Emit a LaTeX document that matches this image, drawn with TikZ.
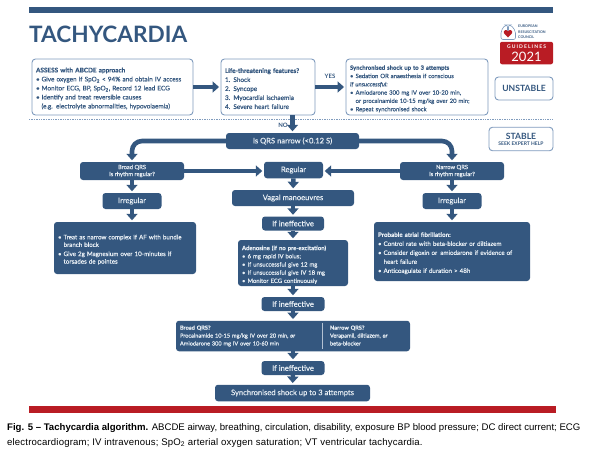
\documentclass[tikz,border=0pt]{standalone}
\usepackage{fontspec}
\setmainfont{Lato}
\newfontfamily\capfont{Liberation Sans}
\newfontfamily\medfont[FakeBold=0.3]{Lato}
\usetikzlibrary{arrows.meta}
\definecolor{ercblue}{HTML}{34577F}
\definecolor{ercline}{HTML}{7F9BBD}
\definecolor{ercred}{HTML}{B91C24}
\definecolor{erctext}{HTML}{E9EFF5}
\newcommand{\blt}{\makebox[5.6pt][l]{\textbullet}}
\newcommand{\ind}{\hspace*{5.6pt}}
\newcommand{\sub}{\textsubscript{2}}
\tikzset{
  nudge/.style={execute at begin node={\rule{0pt}{8pt}}},
  outline/.style={draw=ercline,line width=0.9pt,fill=white,rounded corners=3.5pt,inner ysep=0pt,inner xsep=4pt,
    text=ercblue,align=left,font=\medfont\fontsize{6.4}{9}\selectfont},
  solid box/.style={fill=ercblue,draw=none,rounded corners=3pt,inner ysep=0pt,inner xsep=4pt,text=erctext,align=center,
    font=\medfont\fontsize{7.6}{9}\selectfont},
  small box/.style={solid box,font=\medfont\fontsize{5.8}{7}\selectfont},
  text box/.style={solid box,align=left,font=\medfont\fontsize{6.2}{9}\selectfont},
  flow/.style={draw=ercblue,line width=4.6pt,shorten >=1.5pt,
    -{Triangle[width=11pt,length=6.5pt]}},
  tag/.style={text=ercblue,inner sep=0pt,font=\fontsize{6}{7}\bfseries\selectfont},
}
\begin{document}
\begin{tikzpicture}[x=1pt,y=-1pt]
  \useasboundingbox (0,0) rectangle (590,451);
  \fill[ercblue] (29,7) rectangle (553,12.5);
  \fill[ercred] (29,405.5) rectangle (556,412.5);
  \draw[ercline,line width=0.9pt,dash pattern=on 1.4pt off 1pt] (29,119.5) -- (553,119.5);
  \node[anchor=west,inner sep=0pt,text=ercblue,font=\fontsize{22.6}{26}\bfseries\selectfont] (title) at (29,34.5) {TACHYCARDIA};

  \draw[ercline,line width=0.6pt,rounded corners=2pt] (501,39.5) -- (501,31) -- (505,25) -- (507.5,25) -- (507.5,32)
    -- (508.5,32) -- (508.5,25) -- (511,25) -- (515.5,31) -- (515.5,39.5) -- cycle;
  \fill[ercred] (508,37.5) -- (503.8,33) .. controls (503,30) and (507,29) .. (508,31.5)
    .. controls (509,29) and (513,30) .. (512.2,33) -- cycle;
  \node[anchor=west,inner sep=0pt,align=left,text=ercblue,font=\fontsize{3.6}{5.4}\bfseries\selectfont] (erc) at (518,32)
    {EUROPEAN\\RESUSCITATION\\COUNCIL};
  \node[fill=ercred,rounded corners=2pt,inner sep=0pt,minimum width=53pt,minimum height=22.5pt] (logo) at (526.5,53) {};
  \node[inner sep=0pt,text=white,font=\fontsize{5}{6}\bfseries\addfontfeature{LetterSpace=22}\selectfont] (guide) at (526.5,46.8) {GUIDELINES};
  \node[inner sep=0pt,text=white,font=\fontsize{13}{14}\selectfont] (year) at (526.5,57.3) {2021};

  \node[outline,nudge,minimum height=56pt,text width=153pt] (assess) at (112.5,87) {\textbf{ASSESS with ABCDE approach}\\
    \blt Give oxygen if SpO\sub{} < 94\% and obtain IV access\\
    \blt Monitor ECG, BP, SpO\sub, Record 12 lead ECG\\
    \blt Identify and treat reversible causes\\
    \ind(e.g. electrolyte abnormalities, hypovolaemia)};
  \node[outline,nudge,minimum height=56pt,text width=86pt] (life) at (268,87) {\textbf{Life-threatening features?}\\
    1. Shock\\2. Syncope\\3. Myocardial ischaemia\\4. Severe heart failure};
  \node[outline,nudge,minimum height=56pt,text width=134pt,font=\medfont\fontsize{5.9}{8.3}\selectfont] (shock) at (417,87) {\textbf{Synchronised shock up to 3 attempts}\\
    \blt Sedation OR anaesthesia if conscious\\
    \textit{If unsuccessful:}\\
    \blt Amiodarone 300 mg IV over 10-20 min,\\
    \ind or procainamide 10-15 mg/kg over 20 min;\\
    \blt Repeat synchronised shock};
  \node[outline,align=center,minimum width=58pt,minimum height=23pt,font=\fontsize{8.6}{10}\bfseries\selectfont] (unstable) at (524,88.5) {UNSTABLE};
  \node[outline,align=center,minimum width=64pt,minimum height=23.5pt,font=\fontsize{5}{6}\bfseries\selectfont] (stable) at (521,139)
    {{\fontsize{8.6}{10}\selectfont STABLE}\\SEEK EXPERT HELP};

  \node[solid box,minimum width=133pt,minimum height=16pt] (narrow) at (292.5,141) {Is QRS narrow (<0.12 S)};
  \node[small box,minimum width=104pt,minimum height=18pt] (broadq) at (132,171) {Broad QRS\\Is rhythm regular?};
  \node[solid box,minimum width=59pt,minimum height=16.5pt] (regular) at (293.5,170) {Regular};
  \node[small box,minimum width=104pt,minimum height=18pt] (narrowq) at (452,171) {Narrow QRS\\Is rhythm regular?};
  \node[solid box,minimum width=59pt,minimum height=16pt] (irregl) at (132,201) {Irregular};
  \node[solid box,minimum width=59pt,minimum height=16pt] (irregr) at (452,201) {Irregular};
  \node[solid box,minimum width=122pt,minimum height=16pt] (vagal) at (293,198) {Vagal manoeuvres};
  \node[solid box,minimum width=62pt,minimum height=14pt] (ineff1) at (293,223.5) {If ineffective};
  \node[text box,nudge,minimum height=52pt,text width=134pt,font=\medfont\fontsize{6.2}{7.6}\selectfont] (bundle) at (125,248) {\blt Treat as narrow complex if AF with bundle\\
    \ind branch block\\[1.5pt]
    \blt Give 2g Magnesium over 10-minutes if\\
    \ind torsades de pointes};
  \node[text box,nudge,minimum height=59pt,text width=148pt] (atrial) at (452,251.5) {\textbf{Probable atrial fibrillation:}\\
    \blt Control rate with beta-blocker or diltiazem\\
    \blt Consider digoxin or\, amiodarone if evidence of\\
    \ind heart failure\\
    \blt Anticoagulate if duration > 48h};
  \node[text box,nudge,minimum height=46pt,text width=102pt,font=\medfont\fontsize{5.9}{8.2}\selectfont] (adeno) at (293,263) {\textbf{Adenosine (if no pre-excitation)}\\
    \blt 6 mg rapid IV bolus;\\
    \blt If unsuccessful give 12 mg\\
    \blt If unsuccessful give IV 18 mg\\
    \blt Monitor ECG continuously};
  \node[solid box,minimum width=63pt,minimum height=14pt] (ineff2) at (293,304) {If ineffective};
  \node[text box,minimum height=30.5pt,text width=226pt,font=\medfont\fontsize{5.6}{7.9}\selectfont] (drugs) at (293,336)
    {\makebox[141pt][l]{\textbf{Broad QRS?}}\hspace{9pt}\textbf{Narrow QRS?}\\
    \makebox[141pt][l]{Procainamide 10-15 mg/kg IV over 20 min, \textbf{\textit{or}}}\hspace{9pt}Verapamil, diltiazem, \textbf{\textit{or}}\\
    \makebox[141pt][l]{Amiodarone 300 mg IV over 10-60 min}\hspace{9pt}beta-blocker};
  \draw[erctext!70!ercblue,line width=0.7pt] (322.5,323) -- (322.5,349);
  \node[solid box,minimum width=63pt,minimum height=14pt] (ineff3) at (293,368) {If ineffective};
  \node[solid box,minimum width=155pt,minimum height=16.5pt] (sync) at (292.5,393) {Synchronised shock up to 3 attempts};

  \draw[flow] (assess) -- (life);
  \draw[flow] (life) -- (shock);
  \draw[flow] (life.south -| narrow) -- (narrow);
  \draw[flow,rounded corners=10pt] (narrow.west) -| (broadq.north);
  \draw[flow,rounded corners=10pt] (narrow.east) -| (narrowq.north);
  \draw[flow] (broadq.east) -- (regular.west |- broadq.east);
  \draw[flow] (narrowq.west) -- (regular.east |- narrowq.west);
  \draw[flow] (broadq) -- (irregl);
  \draw[flow] (narrowq) -- (irregr);
  \draw[flow] (irregl.south) -- (bundle.north -| irregl);
  \draw[flow] (irregr) -- (atrial);
  \draw[flow] (regular) -- (vagal);
  \draw[flow] (vagal) -- (ineff1);
  \draw[flow] (ineff1) -- (adeno);
  \draw[flow] (adeno) -- (ineff2);
  \draw[flow] (ineff2) -- (drugs);
  \draw[flow] (drugs) -- (ineff3);
  \draw[flow] (ineff3) -- (sync);
  \node[tag] (yes) at (330,76.5) {YES};
  \node[tag] (no) at (283,125) {NO};

  \node[anchor=west,inner sep=0pt,font=\capfont\fontsize{9.6}{10}\selectfont] (cap1) at (7,428)
    {\textbf{Fig. 5 – Tachycardia algorithm.} ABCDE airway, breathing, circulation, disability, exposure BP blood pressure; DC direct current; ECG};
  \node[anchor=west,inner sep=0pt,font=\capfont\fontsize{9.6}{10}\addfontfeature{LetterSpace=1.7}\selectfont] (cap2) at (7,443)
    {electrocardiogram; IV intravenous; SpO\sub{} arterial oxygen saturation; VT ventricular tachycardia.};
\end{tikzpicture}
\end{document}
